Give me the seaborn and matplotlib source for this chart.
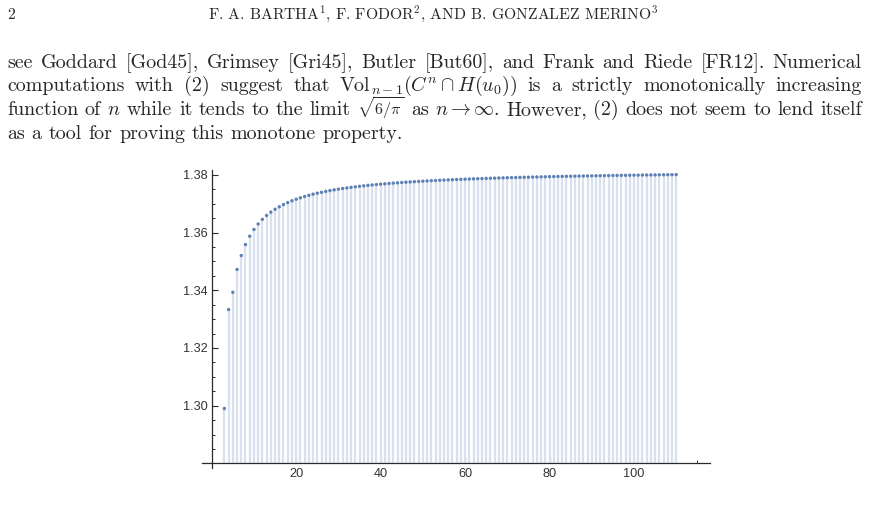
import matplotlib
matplotlib.use("Agg")
import matplotlib.pyplot as plt
import seaborn as sns
from matplotlib.ticker import FixedLocator, FormatStrFormatter

# section volumes Vol_{n-1}(C^n ∩ H(u0)), n = 3..110
n_vals = list(range(3, 111))
volumes = [
    1.29904, 1.33333, 1.33931, 1.34722, 1.35204, 1.35585, 1.35875, 1.36109,
    1.36300, 1.36459, 1.36594, 1.36709, 1.36809, 1.36896, 1.36973, 1.37041,
    1.37103, 1.37158, 1.37207, 1.37252, 1.37294, 1.37332, 1.37366, 1.37398,
    1.37428, 1.37456, 1.37481, 1.37505, 1.37528, 1.37549, 1.37568, 1.37587,
    1.37604, 1.37621, 1.37637, 1.37651, 1.37665, 1.37679, 1.37691, 1.37704,
    1.37715, 1.37726, 1.37737, 1.37747, 1.37756, 1.37765, 1.37774, 1.37783,
    1.37791, 1.37799, 1.37806, 1.37814, 1.37821, 1.37827, 1.37834, 1.37840,
    1.37846, 1.37852, 1.37858, 1.37863, 1.37869, 1.37874, 1.37879, 1.37884,
    1.37888, 1.37893, 1.37897, 1.37902, 1.37906, 1.37910, 1.37914, 1.37918,
    1.37921, 1.37925, 1.37929, 1.37932, 1.37935, 1.37939, 1.37942, 1.37945,
    1.37948, 1.37951, 1.37954, 1.37957, 1.37960, 1.37962, 1.37965, 1.37968,
    1.37970, 1.37973, 1.37975, 1.37977, 1.37980, 1.37982, 1.37984, 1.37986,
    1.37988, 1.37991, 1.37993, 1.37995, 1.37997, 1.37999, 1.38000, 1.38002,
    1.38004, 1.38006, 1.38008, 1.38009,
]
x_major = [20, 40, 60, 80, 100]
x_minor = [v for v in range(5, 120, 5) if v % 20 != 0]
y_major = [1.30, 1.32, 1.34, 1.36, 1.38]
y_minor = [1.285, 1.29, 1.295, 1.305, 1.31, 1.315, 1.325, 1.33, 1.335,
           1.345, 1.35, 1.355, 1.365, 1.37, 1.375]

page_no = "2"
header = r"F. A. BARTHA$^1$, F. FODOR$^2$, AND B. GONZALEZ MERINO$^3$"
# each word is a list of pieces: (text, size factor, baseline shift in px)
vol_word = [("Vol", 1, 0), ("$n-1$", 0.7, 2.5), (r"$(C^n \cap H(u_0))$", 1, 0)]
par_lines = [
    ["see", "Goddard", "[God45],", "Grimsey", "[Gri45],", "Butler", "[But60],",
     "and", "Frank", "and", "Riede", "[FR12].", "Numerical"],
    ["computations", "with", "(2)", "suggest", "that", vol_word, "is", "a",
     "strictly", "monotonically", "increasing"],
    ["function", "of", "$n$", "while", "it", "tends", "to", "the", "limit",
     [(r"$\sqrt{6/\pi}$", 0.8, 0)], "as", r"$n \to \infty$.", "However,",
     "(2)", "does", "not", "seem", "to", "lend", "itself"],
    ["as", "a", "tool", "for", "proving", "this", "monotone", "property."],
]

sns.set_style("white")
plt.rcParams["mathtext.fontset"] = "cm"
plt.rcParams["axes.unicode_minus"] = False
plt.rcParams["font.family"] = ["Liberation Sans", "DejaVu Sans"]

W, H = 870, 509
fig = plt.figure(figsize=(8.7, 5.09), dpi=100)
renderer = fig.canvas.get_renderer()

TXT = 14.4
HDR = 11.3
fig.text(7 / W, 1 - 19 / H, page_no, family="cmr10", fontsize=HDR, va="baseline")
fig.text(433 / W, 1 - 19 / H, header, family="cmr10", fontsize=HDR,
         va="baseline", ha="center")

# justified paragraph, last line left aligned
X0, X1 = 7, 862
baselines = [68, 91, 115, 139]
for k, (words, yb) in enumerate(zip(par_lines, baselines)):
    placed = []
    for w in words:
        pieces = w if isinstance(w, list) else [(w, 1, 0)]
        objs = []
        for txt, f, dy in pieces:
            o = fig.text(0, 1 - (yb + dy) / H, txt, family="cmr10",
                         fontsize=TXT * f, va="baseline")
            objs.append((o, o.get_window_extent(renderer).width))
        placed.append(objs)
    widths = [sum(wd for _, wd in objs) for objs in placed]
    if k < len(par_lines) - 1:
        gap = (X1 - X0 - sum(widths)) / (len(words) - 1)
    else:
        gap = 0.34 * TXT * 100 / 72
    x = X0
    for objs, wsum in zip(placed, widths):
        xx = x
        for o, wd in objs:
            o.set_x(xx / W)
            xx += wd
        x += wsum + gap

# plot
ax = fig.add_axes([202 / W, 1 - 468.3 / H, 508 / W, 298.3 / H])
ax.vlines(n_vals, 1.28, volumes, colors="#d9e1ee", linewidth=1.6, zorder=1)
sns.scatterplot(x=n_vals, y=volumes, ax=ax, color="#5e81b5", s=6,
                edgecolor="none", linewidth=0, zorder=3)

ax.set_xlim(-2.3, 118)
ax.set_ylim(1.2783, 1.3817)
for s in ["top", "right"]:
    ax.spines[s].set_visible(False)
ax.spines["left"].set_position(("data", 0))
ax.spines["bottom"].set_position(("data", 1.28))
for s in ["left", "bottom"]:
    ax.spines[s].set_color("#2a2a2a")
    ax.spines[s].set_linewidth(0.9)

ax.xaxis.set_major_locator(FixedLocator(x_major))
ax.xaxis.set_minor_locator(FixedLocator(x_minor))
ax.yaxis.set_major_locator(FixedLocator(y_major))
ax.yaxis.set_minor_locator(FixedLocator(y_minor))
ax.yaxis.set_major_formatter(FormatStrFormatter("%.2f"))
ax.tick_params(which="major", direction="in", length=4.3, width=0.8,
               color="#2a2a2a", labelsize=9.2, labelcolor="#333333", pad=3)
ax.tick_params(which="minor", direction="in", length=2.4, width=0.7,
               color="#2a2a2a")
ax.tick_params(axis="x", which="both", bottom=True)
ax.tick_params(axis="y", which="both", left=True)
ax.set_xlabel("")
ax.set_ylabel("")

fig.savefig("out.png", dpi=100)
